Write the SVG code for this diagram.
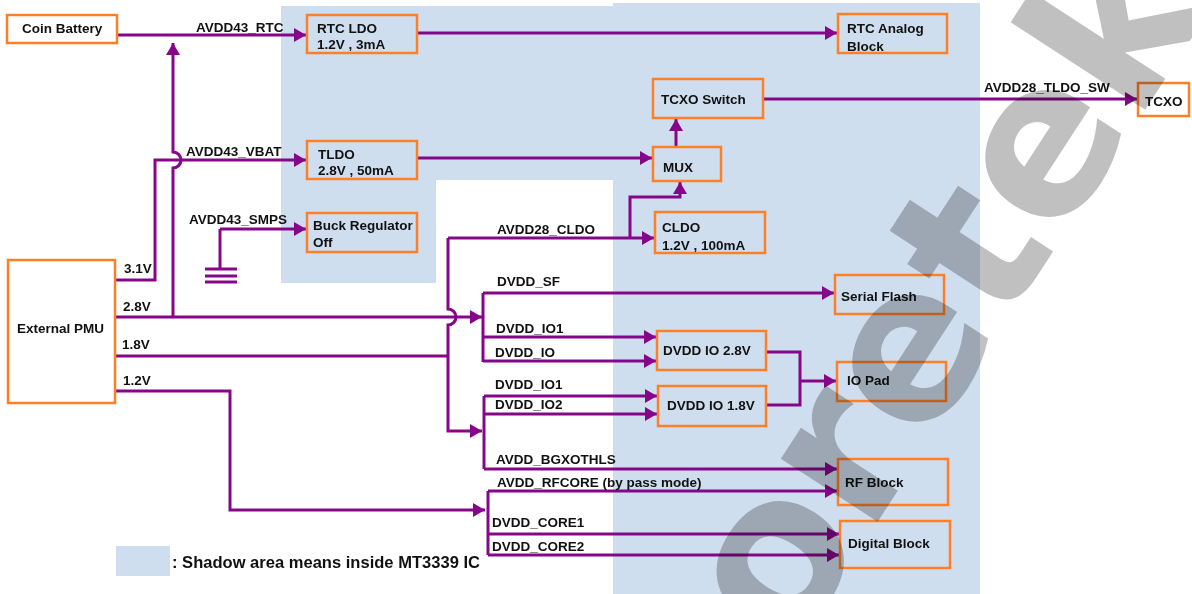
<svg xmlns="http://www.w3.org/2000/svg" width="1192" height="594" viewBox="0 0 1192 594">
<defs>
<style>
.box{fill:none;stroke:#ff7f27;stroke-width:2.5}
.t{font-family:"Liberation Sans",Arial,sans-serif;font-weight:bold;font-size:13.5px;fill:#111}
.w{stroke:#86068a;stroke-width:3;fill:none}
.a{marker-end:url(#arr)}
.wm{font-family:"DejaVu Sans",sans-serif;font-weight:bold;fill:#c0c0c0;mix-blend-mode:multiply}
</style>
<marker id="arr" viewBox="0 0 12 14" refX="12" refY="7" markerWidth="12" markerHeight="14" markerUnits="userSpaceOnUse" orient="auto">
<path d="M0,0 L12,7 L0,14 Z" fill="#86068a"/>
</marker>
<clipPath id="rtcclip"><rect x="838" y="14" width="109" height="38"/></clipPath>
</defs>
<rect width="1192" height="594" fill="#fff"/>
<path d="M281,6 H613 V3 H980 V594 H613 V180 H436 V283 H281 Z" fill="#cfdeee"/>
<rect x="116" y="546" width="54" height="30" fill="#cfdeee"/>
<text class="t" x="172" y="568" textLength="308" lengthAdjust="spacingAndGlyphs" style="font-size:17px">: Shadow area means inside MT3339 IC</text>

<g id="connectors">
<path class="w a" d="M117,35 H306"/>
<path class="w a" d="M173,317 V168 A8,8 0 0 0 173,152 V43"/>
<path class="w a" d="M115,280 H155 V160 H306"/>
<path class="w" d="M220,269 V229"/>
<path class="w a" d="M220,229 H306"/>
<path class="w" d="M205,269 H237 M205,276 H237 M205,282 H237"/>
<path class="w a" d="M115,317 H482"/>
<path class="w" d="M115,356 H448"/>
<path class="w a" d="M448,238 H654"/>
<path class="w a" d="M448,238 V309 A8,8 0 0 1 448,325 V431 H482"/>
<path class="w a" d="M630,238 V197 H680 V182"/>
<path class="w" d="M483,293 V362"/>
<path class="w a" d="M483,293 H834"/>
<path class="w a" d="M483,337 H656"/>
<path class="w a" d="M483,361 H656"/>
<path class="w" d="M484,396 V469"/>
<path class="w a" d="M484,396 H657"/>
<path class="w a" d="M484,414 H657"/>
<path class="w a" d="M484,469 H837"/>
<path class="w a" d="M115,391 H230 V510 H485"/>
<path class="w" d="M488,491 V555"/>
<path class="w a" d="M488,491 H837"/>
<path class="w a" d="M488,534 H839"/>
<path class="w a" d="M488,555 H839"/>
<path class="w a" d="M417,33 H837"/>
<path class="w a" d="M417,158 H652"/>
<path class="w a" d="M676,147 V119"/>
<path class="w a" d="M763,99 H1137"/>
<path class="w" d="M766,352 H800 V405 H766"/>
<path class="w a" d="M800,381 H836"/>
</g>

<g id="labels">
<text class="t" x="196" y="32">AVDD43_RTC</text>
<text class="t" x="186" y="156">AVDD43_VBAT</text>
<text class="t" x="189" y="224">AVDD43_SMPS</text>
<text class="t" x="124" y="273">3.1V</text>
<text class="t" x="123" y="311">2.8V</text>
<text class="t" x="122" y="349">1.8V</text>
<text class="t" x="123" y="385">1.2V</text>
<text class="t" x="497" y="234">AVDD28_CLDO</text>
<text class="t" x="497" y="286">DVDD_SF</text>
<text class="t" x="496" y="333">DVDD_IO1</text>
<text class="t" x="495" y="357">DVDD_IO</text>
<text class="t" x="495" y="389">DVDD_IO1</text>
<text class="t" x="495" y="409">DVDD_IO2</text>
<text class="t" x="496" y="464">AVDD_BGXOTHLS</text>
<text class="t" x="497" y="487">AVDD_RFCORE (by pass mode)</text>
<text class="t" x="492" y="527">DVDD_CORE1</text>
<text class="t" x="492" y="551">DVDD_CORE2</text>
<text class="t" x="984" y="92">AVDD28_TLDO_SW</text>
</g>

<g id="coin-battery"><rect class="box" x="7" y="15" width="110" height="28"/><text class="t" x="22" y="33">Coin Battery</text></g>
<g id="rtc-ldo"><rect class="box" x="307" y="15" width="110" height="38"/><text class="t" x="317" y="33">RTC LDO</text><text class="t" x="317" y="49">1.2V , 3mA</text></g>
<g id="rtc-analog"><rect class="box" x="838" y="14" width="109" height="39"/><g clip-path="url(#rtcclip)"><text class="t" x="847" y="33">RTC Analog</text><text class="t" x="847" y="51">Block</text></g></g>
<g id="tldo"><rect class="box" x="307" y="141" width="110" height="38"/><text class="t" x="318" y="159">TLDO</text><text class="t" x="318" y="175">2.8V , 50mA</text></g>
<g id="tcxo-switch"><rect class="box" x="653" y="79" width="110" height="39"/><text class="t" x="661" y="104">TCXO Switch</text></g>
<g id="mux"><rect class="box" x="653" y="147" width="68" height="34"/><text class="t" x="663" y="172">MUX</text></g>
<g id="tcxo"><rect class="box" x="1138" y="83" width="51" height="33"/><text class="t" x="1145" y="106">TCXO</text></g>
<g id="buck"><rect class="box" x="307" y="213" width="110" height="39"/><text class="t" x="313" y="230">Buck Regulator</text><text class="t" x="313" y="247">Off</text></g>
<g id="external-pmu"><rect class="box" x="8" y="260" width="107" height="143"/><text class="t" x="17" y="333">External PMU</text></g>
<g id="cldo"><rect class="box" x="655" y="212" width="110" height="41"/><text class="t" x="662" y="232">CLDO</text><text class="t" x="662" y="250">1.2V , 100mA</text></g>
<g id="serial-flash"><rect class="box" x="835" y="275" width="109" height="39"/><text class="t" x="841" y="301">Serial Flash</text></g>
<g id="dvdd-io-28"><rect class="box" x="657" y="331" width="109" height="39"/><text class="t" x="663" y="355">DVDD IO 2.8V</text></g>
<g id="dvdd-io-18"><rect class="box" x="658" y="386" width="108" height="40"/><text class="t" x="667" y="410">DVDD IO 1.8V</text></g>
<g id="io-pad"><rect class="box" x="837" y="362" width="109" height="39"/><text class="t" x="847" y="385">IO Pad</text></g>
<g id="rf-block"><rect class="box" x="838" y="459" width="110" height="46"/><text class="t" x="845" y="487">RF Block</text></g>
<g id="digital-block"><rect class="box" x="840" y="521" width="110" height="47"/><text class="t" x="848" y="548">Digital Block</text></g>

<text class="wm" transform="translate(789,658) rotate(-57)" font-size="211">oretek</text>
</svg>
